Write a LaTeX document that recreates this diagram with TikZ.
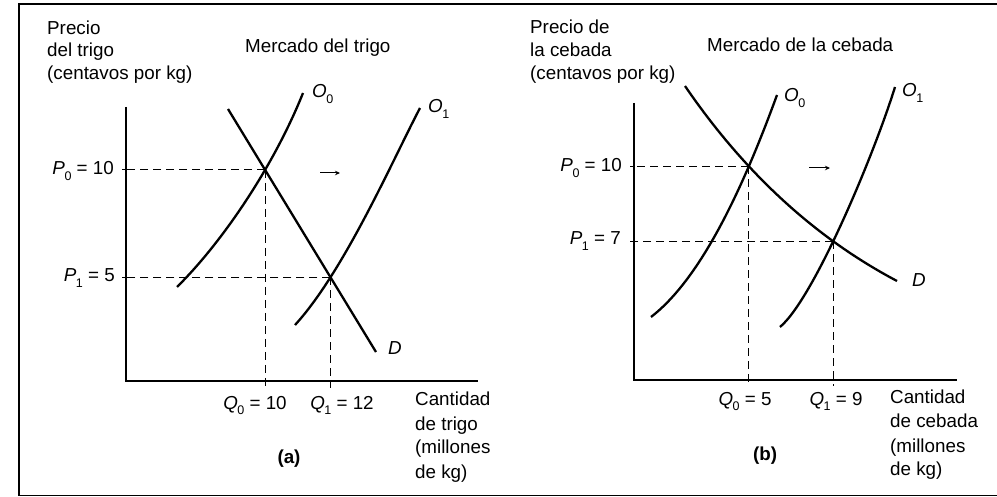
\documentclass[tikz,border=0pt]{standalone}
\usepackage{fontspec}
\setmainfont{Liberation Sans}
\usetikzlibrary{arrows.meta,intersections}
\newcommand\sbs[2]{\textit{#1}\kern-0.5pt\raisebox{-0.3em}{\fontsize{12.5}{12.5}\selectfont #2}}
\begin{document}
\begin{tikzpicture}[x=1pt,y=-1pt,
  txt/.style={inner sep=0pt, font=\fontsize{18.8}{22}\selectfont},
  axis/.style={line width=1.6pt},
  curve/.style={line width=2.3pt},
  guide/.style={line width=0.9pt, dash pattern=on 8pt off 5pt},
  shiftarrow/.style={line width=1pt,-{Stealth[length=5pt,width=4.5pt]}}]
\useasboundingbox (0,0) rectangle (997,497);
\draw[line width=1.2pt] (997,4) -- (19,4) -- (19,495.5) -- (997,495.5);

% ---------- panel (a)
\coordinate (aO) at (126,381);
\coordinate (aY) at (126,107);
\coordinate (aX) at (478,381);
\draw[axis] (aY) -- (aO) -- (aX);
\draw[curve,name path=aS0] (177,287) .. controls (224,240.4) and (274.6,164.1) .. (303,93);
\draw[curve,name path=aS1] (295,325) .. controls (344,271.5) and (392.3,160.9) .. (420,108);
\draw[curve,name path=aD] (228,109) -- (376,352);
\path[name intersections={of=aS0 and aD,by=aE0}];
\path[name intersections={of=aS1 and aD,by=aE1}];
\draw[guide] (aE0) -- (aE0 -| aO);
\draw[guide] (aE1) -- (aE1 -| aO);
\draw[guide] (aE0) -- (aE0 |- 0,388);
\draw[guide] (aE1) -- (aE1 |- 0,388);
\draw[line width=1pt] ([xshift=-4pt]aE0 -| aO) -- (aE0 -| aO) ([xshift=-4pt]aE1 -| aO) -- (aE1 -| aO);
\coordinate (aA1) at (320,173);
\coordinate (aA2) at (340,173);
\draw[shiftarrow] (aA1) -- (aA2);

\node[txt,anchor=base west] (ay1) at (47,35) {Precio};
\node[txt,anchor=base west] (ay2) at (47,57) {del trigo};
\node[txt,anchor=base west] (ay3) at (47,80) {(centavos por kg)};
\node[txt,anchor=base west] (at) at (245,53) {Mercado del trigo};
\node[txt,anchor=base east] (ap0) at (114,175) {\sbs{P}{0} = 10};
\node[txt,anchor=base east] (ap1) at (115,282) {\sbs{P}{1} = 5};
\node[txt,anchor=base] (aq0) at (255,409) {\sbs{Q}{0} = 10};
\node[txt,anchor=base] (aq1) at (342,409) {\sbs{Q}{1} = 12};
\node[txt,anchor=base west] (ax1) at (415,405) {Cantidad};
\node[txt,anchor=base west] (ax2) at (415,430) {de trigo};
\node[txt,anchor=base west] (ax3) at (415,453) {(millones};
\node[txt,anchor=base west] (ax4) at (415,478) {de kg)};
\node[txt,anchor=base,font=\fontsize{18.8}{22}\selectfont\bfseries] (alab) at (289,463) {(a)};
\node[txt,anchor=base west] (aso) at (312,98) {\sbs{O}{0}};
\node[txt,anchor=base west] (as1) at (428,113) {\sbs{O}{1}};
\node[txt,anchor=base west] (ad) at (388,355) {\textit{D}};

% ---------- panel (b)
\coordinate (bO) at (634,380);
\coordinate (bY) at (634,103);
\coordinate (bX) at (957,380);
\draw[axis] (bY) -- (bO) -- (bX);
\draw[curve,name path=bS0] (651,317) .. controls (700.5,278.8) and (742,190.8) .. (777,95);
\draw[curve,name path=bS1] (780,327) .. controls (813.6,298.7) and (873.3,156.7) .. (895,87);
\draw[curve,name path=bD] (685,86) .. controls (744.3,172.7) and (815,237.7) .. (897,281);
\path[name intersections={of=bS0 and bD,by=bE0}];
\path[name intersections={of=bS1 and bD,by=bE1}];
\draw[guide] (bE0) -- (bE0 -| bO);
\draw[guide] (bE1) -- (bE1 -| bO);
\draw[guide] (bE0) -- (bE0 |- 0,386);
\draw[guide] (bE1) -- (bE1 |- 0,386);
\draw[line width=1pt] ([xshift=-4pt]bE0 -| bO) -- (bE0 -| bO) ([xshift=-4pt]bE1 -| bO) -- (bE1 -| bO);
\coordinate (bA1) at (809,168);
\coordinate (bA2) at (830,168);
\draw[shiftarrow] (bA1) -- (bA2);

\node[txt,anchor=base west] (by1) at (530,34) {Precio de};
\node[txt,anchor=base west] (by2) at (530,57) {la cebada};
\node[txt,anchor=base west] (by3) at (530,80) {(centavos por kg)};
\node[txt,anchor=base west] (bt) at (707,52) {Mercado de la cebada};
\node[txt,anchor=base east] (bp0) at (622,172) {\sbs{P}{0} = 10};
\node[txt,anchor=base east] (bp1) at (621,245) {\sbs{P}{1} = 7};
\node[txt,anchor=base] (bq0) at (745,405) {\sbs{Q}{0} = 5};
\node[txt,anchor=base] (bq1) at (836,405) {\sbs{Q}{1} = 9};
\node[txt,anchor=base west] (bx1) at (890,403) {Cantidad};
\node[txt,anchor=base west] (bx2) at (890,428) {de cebada};
\node[txt,anchor=base west] (bx3) at (890,452) {(millones};
\node[txt,anchor=base west] (bx4) at (890,475) {de kg)};
\node[txt,anchor=base,font=\fontsize{18.8}{22}\selectfont\bfseries] (blab) at (765,460) {(b)};
\node[txt,anchor=base west] (bso) at (784,102) {\sbs{O}{0}};
\node[txt,anchor=base west] (bs1) at (902,97) {\sbs{O}{1}};
\node[txt,anchor=base west] (bd) at (912,287) {\textit{D}};
\end{tikzpicture}
\end{document}
